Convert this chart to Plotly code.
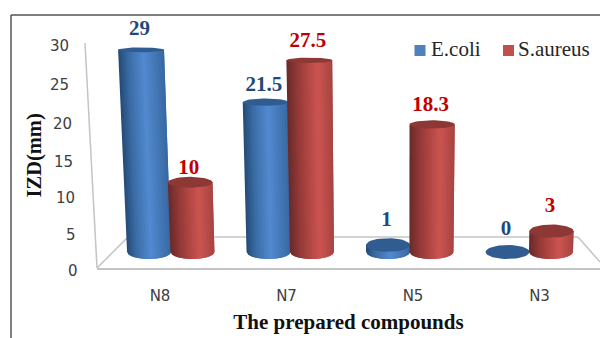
import math
import plotly.graph_objects as go

# Inhibition zone diameters per prepared compound
categories = ["N8", "N7", "N5", "N3"]
ecoli = [29, 21.5, 1, 0]
saureus = [10, 27.5, 18.3, 3]
y_ticks = [0, 5, 10, 15, 20, 25, 30]

# Page layout, in pixels
W, H = 600, 338
PLOT_L, PLOT_R, PLOT_T, PLOT_B = 97, 600, 15, 268

# Receding wall scale: where each y tick label sits, with its right edge
TICK_PY = [271, 235, 198, 162, 124, 85, 46]
TICK_RIGHT = [80, 78, 77, 75, 74, 71, 71]

# Cylinder plane: x unit and y unit in pixels, and the origin of both
UNIT_X, UNIT_Y = 119.5, 6.97
BASE_PX, BASE_PY = 170.75, 252
OFFSET_PX = 21.7
VANISH_PX = 400
SKEW = 0.0011
HALF_W = 22
RY_BASE, RY_SLOPE = 7.0, 0.155
STRIPS = 28

# Shading across a cylinder: fraction of width -> rgb
BLUE_STOPS = [(0, (36, 74, 118)), (0.22, (58, 108, 165)), (0.55, (82, 138, 208)), (1, (56, 104, 162))]
RED_STOPS = [(0, (104, 42, 42)), (0.25, (150, 58, 56)), (0.68, (204, 84, 80)), (1, (166, 68, 66))]
BLUE_TOP, RED_TOP = "rgb(48,92,146)", "rgb(142,56,54)"
BLUE_MAIN, RED_MAIN = "#4f81bd", "#c0504d"
BLUE_TEXT, RED_TEXT = "#1f497d", "#c00000"
GRID = "#c4c4c4"
SERIF = "Liberation Serif"

# Vertical gap in pixels from each cylinder's top edge to the centre of its label
blue_lift = [17.5, 13, 17, 15]
red_lift = [8, 16, 15, 18]


def paper_x(px):
    return (px - PLOT_L) / (PLOT_R - PLOT_L)


def paper_y(py):
    return (PLOT_B - py) / (PLOT_B - PLOT_T)


def shade(stops, t):
    for (t0, c0), (t1, c1) in zip(stops, stops[1:]):
        if t <= t1:
            f = (t - t0) / (t1 - t0)
            return "rgb(%d,%d,%d)" % tuple(round(a + (b - a) * f) for a, b in zip(c0, c1))
    return "rgb(%d,%d,%d)" % stops[-1][1]


def ry_at(v):
    return RY_BASE - RY_SLOPE * v


def centre_px(base_px, v):
    return base_px + (base_px - VANISH_PX) * SKEW * v


def half_at(v):
    return HALF_W * (1 + 0.0015 * v)


def to_x(px):
    return (px - BASE_PX) / UNIT_X


def polygon_trace(xs, ys, color):
    return go.Scatter(
        x=[to_x(p) for p in xs], y=ys, mode="lines", fill="toself", fillcolor=color,
        line=dict(color=color, width=0), xaxis="x2", yaxis="y",
        hoverinfo="skip", showlegend=False, cliponaxis=False,
    )


def cylinder(base_px, v, stops, top_color):
    traces = []
    cb, ct = centre_px(base_px, 0), centre_px(base_px, v)
    hb, ht = half_at(0), half_at(v)
    if v > 0:
        for k in range(STRIPS):
            # Each strip runs one step past its neighbour, painted left to right
            t0, t1 = k / STRIPS, min(1, (k + 2) / STRIPS)
            xs, ys = [], []
            for t in (t0, (t0 + t1) / 2, t1):
                u = 2 * t - 1
                xs.append(cb + hb * u)
                ys.append(-ry_at(0) * math.sqrt(max(0, 1 - u * u)) / UNIT_Y)
            for t in (t1, t0):
                u = 2 * t - 1
                xs.append(ct + ht * u)
                ys.append(v)
            traces.append(polygon_trace(xs, ys, shade(stops, (k + 0.5) / STRIPS)))
    n = 48
    xs = [ct + ht * math.cos(2 * math.pi * i / n) for i in range(n + 1)]
    ys = [v + ry_at(v) * math.sin(2 * math.pi * i / n) / UNIT_Y for i in range(n + 1)]
    traces.append(polygon_trace(xs, ys, top_color))
    return traces


fig = go.Figure()

series = [
    ("E.coli", ecoli, -OFFSET_PX, BLUE_MAIN, BLUE_STOPS, BLUE_TOP, BLUE_TEXT, blue_lift),
    ("S.aureus", saureus, OFFSET_PX, RED_MAIN, RED_STOPS, RED_TOP, RED_TEXT, red_lift),
]

# Tick labels of the category axis live on the primary x axis
fig.add_trace(go.Scatter(x=[0, 3], y=[0, 0], mode="none", xaxis="x", yaxis="y",
                         showlegend=False, hoverinfo="skip"))

for name, values, offset, main, stops, top, text_color, lifts in series:
    positions = [BASE_PX + UNIT_X * i + offset for i in range(len(values))]
    # Flat bars carry the values under the shaded cylinder faces
    fig.add_trace(go.Bar(
        x=[to_x(p) for p in positions], y=values, width=26 / UNIT_X, name=name,
        marker=dict(color=main, line=dict(width=0)), xaxis="x2", yaxis="y", showlegend=False,
    ))
    for p, v in zip(positions, values):
        for tr in cylinder(p, v, stops, top):
            fig.add_trace(tr)

# Value labels go last so no cylinder covers them
for name, values, offset, main, stops, top, text_color, lifts in series:
    positions = [BASE_PX + UNIT_X * i + offset for i in range(len(values))]
    fig.add_trace(go.Scatter(
        x=[to_x(centre_px(p, v) - 1.5) for p, v in zip(positions, values)],
        y=[v + (ry_at(v) + lift) / UNIT_Y for v, lift in zip(values, lifts)],
        text=[str(v) for v in values], mode="text", textposition="middle center",
        textfont=dict(family=SERIF, size=21, color=text_color, weight="bold"),
        xaxis="x2", yaxis="y", showlegend=False, cliponaxis=False, hoverinfo="skip",
    ))


def seg(x0, y0, x1, y1, color=GRID, width=1.5, layer="below"):
    return dict(type="line", xref="paper", yref="paper",
                x0=paper_x(x0), y0=paper_y(y0), x1=paper_x(x1), y1=paper_y(y1),
                line=dict(color=color, width=width), layer=layer)


shapes = [
    seg(85, 43, 97, 268),          # left wall edge
    seg(97, 268, 128, 237),        # floor, left side
    seg(128, 237, 578, 237),       # floor, back edge
    seg(578, 237, 600, 262),       # floor, right side
    seg(11, 15, 600, 15, "#555555", 1.5),   # outer frame
    seg(11, 15, 11, 338, "#555555", 1.5),
]

annotations = [
    dict(text=str(t), xref="paper", yref="paper", x=paper_x(r), y=paper_y(p),
         xanchor="right", yanchor="middle", showarrow=False,
         font=dict(family="DejaVu Sans", size=15, color="#404040"))
    for t, p, r in zip(y_ticks, TICK_PY, TICK_RIGHT)
]

annotations.append(dict(
    text="<b>IZD(mm)</b>", xref="paper", yref="paper", x=paper_x(34), y=paper_y(155.5),
    xanchor="center", yanchor="middle", textangle=-90, showarrow=False,
    font=dict(family=SERIF, size=20.5, color="#111111"),
))

# Legend swatches and names
for label, color, sq_x, text_x in (("E.coli", BLUE_MAIN, 414.5, 428.5), ("S.aureus", RED_MAIN, 503, 515.5)):
    shapes.append(dict(type="rect", xref="paper", yref="paper",
                       x0=paper_x(sq_x), x1=paper_x(sq_x + 11),
                       y0=paper_y(56), y1=paper_y(45),
                       fillcolor=color, line=dict(width=0), layer="above"))
    annotations.append(dict(text=label, xref="paper", yref="paper", x=paper_x(text_x), y=paper_y(49),
                            xanchor="left", yanchor="middle", showarrow=False,
                            font=dict(family=SERIF, size=21, color="#262626")))

fig.update_layout(
    width=W, height=H, autosize=False,
    margin=dict(l=PLOT_L, r=W - PLOT_R, t=PLOT_T, b=H - PLOT_B, pad=0),
    paper_bgcolor="white", plot_bgcolor="white",
    barmode="overlay", bargap=0, showlegend=False,
    shapes=shapes, annotations=annotations,
    xaxis=dict(
        range=[(PLOT_L - 160) / 126.5, (PLOT_R - 160) / 126.5],
        tickvals=list(range(len(categories))), ticktext=categories,
        showgrid=False, zeroline=False, showline=True, linecolor=GRID, linewidth=2,
        ticks="outside", ticklen=13, tickcolor="rgba(0,0,0,0)", tickwidth=1,
        tickfont=dict(family="DejaVu Sans", size=15, color="#404040"),
        title=dict(text="The prepared compounds", standoff=10,
                   font=dict(family=SERIF, size=21, color="#111111", weight="bold")),
    ),
    xaxis2=dict(
        range=[to_x(PLOT_L), to_x(PLOT_R)], overlaying="x", visible=False, anchor="y",
    ),
    yaxis=dict(
        range=[(BASE_PY - PLOT_B) / UNIT_Y, (BASE_PY - PLOT_T) / UNIT_Y],
        showgrid=False, zeroline=False, showline=False, showticklabels=False, ticks="",
    ),
)

fig.write_html("out.html", config={"displayModeBar": False})
